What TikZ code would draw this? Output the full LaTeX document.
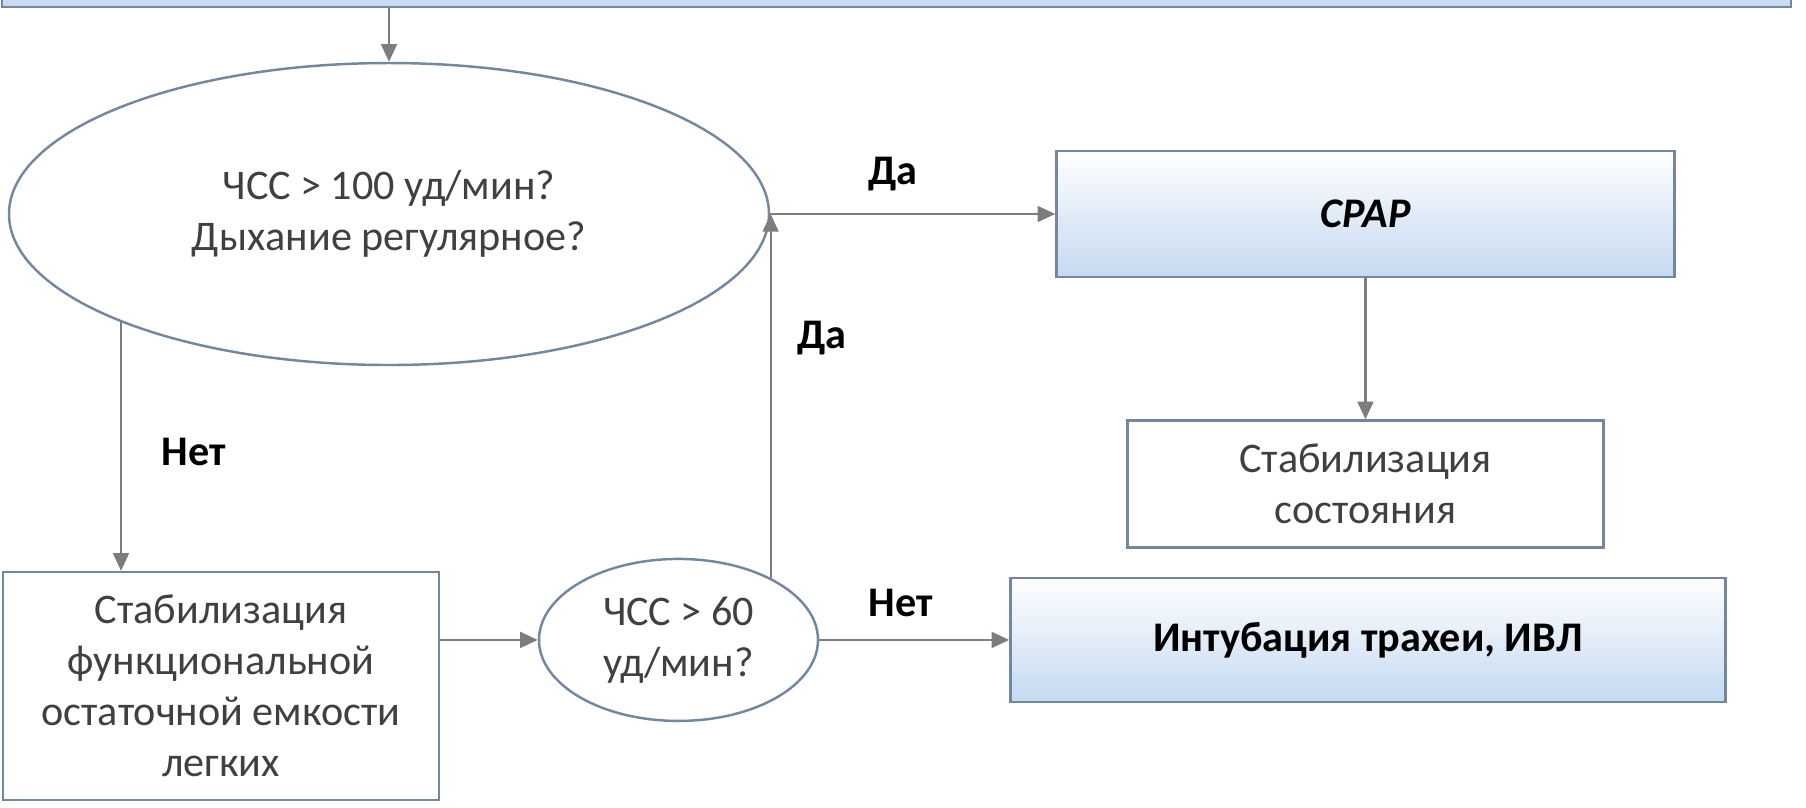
\documentclass[tikz,border=0pt]{standalone}
\usepackage{fontspec}
\setmainfont{Carlito}
\usetikzlibrary{positioning, arrows.meta, shapes.geometric}
\definecolor{framegray}{RGB}{115,135,160}
\definecolor{linegray}{RGB}{125,125,125}
\definecolor{textgray}{RGB}{64,64,64}
\definecolor{paleblue}{RGB}{197,217,241}

\begin{document}
\begin{tikzpicture}[>={Triangle[length=5pt, width=4.5pt]}, font=\fontsize{12}{14.5}\selectfont]
  % Styles
  \tikzstyle{box}=[draw=framegray, line width=0.7pt, fill=white, text=textgray, align=center, inner sep=0pt]
  \tikzstyle{decision}=[ellipse, draw=framegray, line width=0.7pt, fill=white, text=textgray, align=center, inner sep=0pt]
  \tikzstyle{link}=[color=linegray, line width=0.6pt]
  \tikzset{gradbox/.style={box, top color=white, bottom color=paleblue}}
  \tikzset{answer/.style={text=black, font=\fontsize{12}{14.5}\selectfont\bfseries}}

  \useasboundingbox (0,0) rectangle (18.06,-8.07);

  % --- Nodes ---
  \node[gradbox, minimum width=17.89cm, minimum height=0.67cm] (Top) at (8.965,0.265) {};
  \node[decision, minimum width=7.6cm, minimum height=3.02cm] (HeartRate) at (3.89,-2.14)
    {ЧСС > 100 уд/мин?\\Дыхание регулярное?};
  \node[gradbox, minimum width=6.18cm, minimum height=1.26cm, text=black,
    font=\fontsize{12}{14.5}\selectfont\bfseries\itshape] (CPAP) [right=2.85cm of HeartRate] {CPAP};
  \node[box, minimum width=4.76cm, minimum height=1.27cm] (Stable) [below=1.41cm of CPAP]
    {Стабилизация\\состояния};
  \node[gradbox, minimum width=7.15cm, minimum height=1.24cm, text=black,
    font=\fontsize{12}{14.5}\selectfont\bfseries] (Intubation) [below=0.28cm of Stable, xshift=0.025cm]
    {Интубация трахеи, ИВЛ};
  \node[decision, minimum width=2.79cm, minimum height=1.62cm] (HeartRateLow) [left=1.9cm of Intubation]
    {ЧСС > 60\\уд/мин?};
  \node[box, minimum width=4.36cm, minimum height=2.28cm] (FRC) at (2.21,-6.86)
    {Стабилизация\\функциональной\\остаточной емкости\\легких};

  % --- Transitions ---
  \path[->, link]
    (Top.south -| HeartRate.north) edge (HeartRate.north)
    (HeartRate.east) edge node[answer, above=3pt, pos=0.43] {Да} (CPAP.west)
    (CPAP.south) edge (Stable.north);

  % not regular -> stabilise FRC -> check again
  \path[->, link]
    (HeartRate.202) edge node[answer, right=8pt, pos=0.52] {Нет} (HeartRate.202 |- FRC.north)
    (FRC.east |- HeartRateLow.west) edge (HeartRateLow.west)
    (HeartRateLow.east) edge node[answer, above=3pt, pos=0.43] {Нет} (Intubation.west)
    (HeartRateLow.34) edge node[answer, right=4pt, pos=0.66] {Да} (HeartRateLow.34 |- HeartRate.east);

\end{tikzpicture}
\end{document}
